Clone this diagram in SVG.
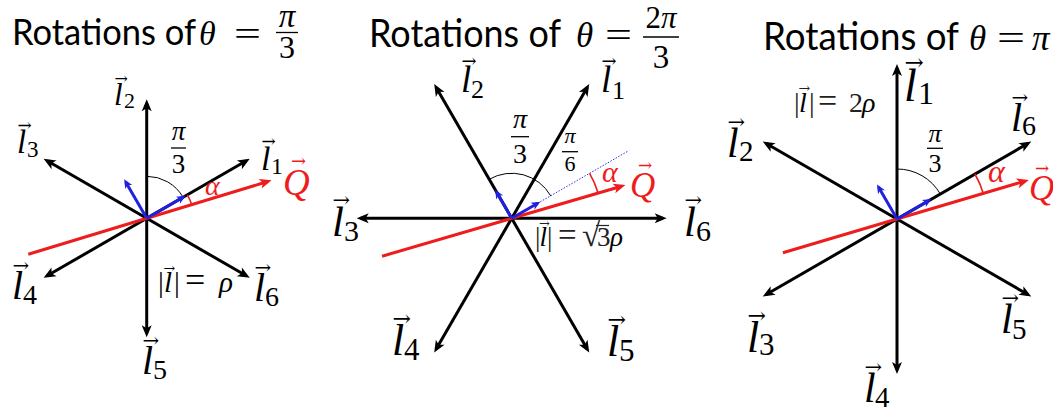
<svg xmlns="http://www.w3.org/2000/svg" width="1053" height="414" viewBox="0 0 1053 414">
<style>
.t{font-family:Lato,"Open Sans",sans-serif;fill:#000}
.mi{font-family:"Liberation Serif",serif;font-style:italic;fill:#000}
.mr{font-family:"Liberation Serif",serif;fill:#000}
.va{font-family:"DejaVu Serif",serif;fill:#000}
.red{fill:#ee1c1c}
.ln{stroke:#000;stroke-width:3;fill:none}
.rd{stroke:#ee1c1c;stroke-width:3;fill:none}
.bl{stroke:#2020e0;stroke-width:3;fill:none}
.dot{stroke:#3030e8;stroke-width:1;stroke-dasharray:1.5 1.5;fill:none}
.arc{stroke:#000;stroke-width:1;fill:none}
.rarc{stroke:#ee1c1c;stroke-width:1.6;fill:none}
.bar{stroke:#000;stroke-width:1.3}
.gr{fill:#222}
</style>
<defs>
<marker id="ak" markerUnits="userSpaceOnUse" markerWidth="14" markerHeight="12" refX="8" refY="5" orient="auto-start-reverse" overflow="visible"><path d="M0,0 L12,5 L0,10 L3,5 Z" fill="#000"/></marker>
<marker id="ar" markerUnits="userSpaceOnUse" markerWidth="14" markerHeight="12" refX="8" refY="5" orient="auto" overflow="visible"><path d="M0,0 L12,5 L0,10 L3,5 Z" fill="#ee1c1c"/></marker>
<marker id="ab" markerUnits="userSpaceOnUse" markerWidth="10" markerHeight="9" refX="6" refY="4" orient="auto" overflow="visible"><path d="M0,0 L9,4 L0,8 L2.5,4 Z" fill="#2020e0"/></marker>
</defs>
<rect width="1053" height="414" fill="#fff"/>

<!-- Titles -->
<g id="title1">
<text class="t" x="12" y="45" font-size="36" textLength="184" lengthAdjust="spacingAndGlyphs">Rotations of</text>
<text class="mi" x="199" y="45" font-size="34">θ</text>
<text class="mr" x="234" y="45" font-size="34" textLength="27" lengthAdjust="spacingAndGlyphs">=</text>
<text class="mi" x="287" y="27" font-size="33" text-anchor="middle">π</text>
<line class="bar" x1="276" y1="32.5" x2="298" y2="32.5"/>
<text class="mr" x="287" y="58" font-size="32" text-anchor="middle">3</text>
</g>
<g id="title2">
<text class="t" x="369" y="47" font-size="39" textLength="192" lengthAdjust="spacingAndGlyphs">Rotations of</text>
<text class="mi" x="576" y="47" font-size="35">θ</text>
<text class="mr" x="605" y="47" font-size="35" textLength="27" lengthAdjust="spacingAndGlyphs">=</text>
<text class="mr" x="661" y="28" font-size="31" text-anchor="middle">2<tspan class="mi">π</tspan></text>
<line class="bar" x1="643" y1="37" x2="679" y2="37"/>
<text class="mr" x="661" y="68" font-size="33" text-anchor="middle">3</text>
</g>
<g id="title3">
<text class="t" x="763" y="50" font-size="39" textLength="196" lengthAdjust="spacingAndGlyphs">Rotations of</text>
<text class="mi" x="969" y="50" font-size="35">θ</text>
<text class="mr" x="997" y="50" font-size="35" textLength="28" lengthAdjust="spacingAndGlyphs">=</text>
<text class="mi" x="1032" y="50" font-size="35">π</text>
</g>

<!-- Panel 1 -->
<g id="panel1">
<g id="p1-connectors">
<line class="ln" x1="146.7" y1="103.3" x2="146.7" y2="333.3" marker-start="url(#ak)" marker-end="url(#ak)"/>
<line class="ln" x1="47.1" y1="275.8" x2="246.3" y2="160.8" marker-start="url(#ak)" marker-end="url(#ak)"/>
<line class="ln" x1="47.1" y1="160.8" x2="246.3" y2="275.8" marker-start="url(#ak)" marker-end="url(#ak)"/>
<path class="arc" d="M146.7,176.3 A42,42 0 0,1 183.1,197.3"/>
<path class="rarc" d="M187.4,194.8 A47,47 0 0,1 191.7,204.6"/>
<line class="rd" x1="28.3" y1="254.3" x2="267.8" y2="181.5" marker-end="url(#ar)"/>
<line class="bl" x1="146.7" y1="218.3" x2="125.7" y2="181.9" marker-end="url(#ab)"/>
<line class="bl" x1="146.7" y1="218.3" x2="183.1" y2="197.3" marker-end="url(#ab)"/>
</g>
<g id="p1-l2"><text class="mi" x="114" y="105" font-size="31">l</text><text class="mr" x="124" y="108" font-size="22">2</text><text class="va" x="114.5" y="84.4" font-size="16">→</text></g>
<g id="p1-l3"><text class="mi" x="17" y="153" font-size="33">l</text><text class="mr" x="27" y="157" font-size="23">3</text><text class="va" x="17.5" y="131" font-size="17">→</text></g>
<g id="p1-l1"><text class="mi" x="261" y="170" font-size="34">l</text><text class="mr" x="271" y="174" font-size="24">1</text><text class="va" x="261.5" y="147.4" font-size="17">→</text></g>
<g id="p1-l4"><text class="mi" x="12" y="299" font-size="40">l</text><text class="mr" x="23" y="304" font-size="28">4</text><text class="va" x="12.5" y="272.4" font-size="20">→</text></g>
<g id="p1-l6"><text class="mi" x="254" y="301" font-size="40">l</text><text class="mr" x="265" y="306" font-size="28">6</text><text class="va" x="254.5" y="274.4" font-size="20">→</text></g>
<g id="p1-l5"><text class="mi" x="142" y="374" font-size="40">l</text><text class="mr" x="153" y="379" font-size="28">5</text><text class="va" x="142.5" y="347.4" font-size="20">→</text></g>
<g id="p1-Q"><text class="mi red" x="283" y="195" font-size="37">Q</text><text class="va red" x="291" y="167" font-size="18">→</text></g>
<g id="p1-alpha"><text class="mi red" x="205" y="195" font-size="28">α</text></g>
<g id="p1-angle"><text class="mi" x="178.5" y="140" font-size="27" text-anchor="middle">π</text><line class="bar" x1="171" y1="148" x2="186" y2="148"/><text class="mr" x="178.5" y="173" font-size="27" text-anchor="middle">3</text></g>
<g id="p1-norm"><text class="mr" y="292" font-size="29"><tspan x="158">|</tspan><tspan x="164" class="mi">l</tspan><tspan x="174">|</tspan><tspan x="185" font-size="36">=</tspan><tspan x="219" class="mi">ρ</tspan></text><text class="va" x="163.5" y="272.7" font-size="14">→</text></g>
</g>

<!-- Panel 2 -->
<g id="panel2">
<g id="p2-connectors">
<line class="ln" x1="360.7" y1="218.3" x2="662.7" y2="218.3" marker-start="url(#ak)" marker-end="url(#ak)"/>
<line class="ln" x1="436.2" y1="349.1" x2="587.2" y2="87.5" marker-start="url(#ak)" marker-end="url(#ak)"/>
<line class="ln" x1="587.2" y1="349.1" x2="436.2" y2="87.5" marker-start="url(#ak)" marker-end="url(#ak)"/>
<line class="dot" x1="511.7" y1="218.3" x2="627.7" y2="151.3"/>
<path class="arc" d="M489.2,179.3 A45,45 0 0,1 550.7,195.8"/>
<path class="rarc" d="M589.6,173.3 A90,90 0 0,1 598.1,193"/>
<line class="rd" x1="382.1" y1="256.2" x2="621.6" y2="186.2" marker-end="url(#ar)"/>
<line class="bl" x1="511.7" y1="218.3" x2="496.7" y2="192.3" marker-end="url(#ab)"/>
<line class="bl" x1="511.7" y1="218.3" x2="537.7" y2="203.3" marker-end="url(#ab)"/>
</g>
<g id="p2-l2"><text class="mi" x="461" y="92" font-size="37">l</text><text class="mr" x="471" y="98" font-size="26">2</text><text class="va" x="461.5" y="67.4" font-size="18">→</text></g>
<g id="p2-l1"><text class="mi" x="601" y="92" font-size="37">l</text><text class="mr" x="612" y="99" font-size="26">1</text><text class="va" x="601.5" y="67.4" font-size="18">→</text></g>
<g id="p2-l3"><text class="mi" x="332" y="236" font-size="43">l</text><text class="mr" x="344" y="241" font-size="30">3</text><text class="va" x="332.5" y="207.4" font-size="21">→</text></g>
<g id="p2-l6"><text class="mi" x="684" y="236" font-size="43">l</text><text class="mr" x="696" y="241" font-size="30">6</text><text class="va" x="684.5" y="207.4" font-size="21">→</text></g>
<g id="p2-l4"><text class="mi" x="392" y="355" font-size="44">l</text><text class="mr" x="404" y="360" font-size="31">4</text><text class="va" x="392.5" y="325.7" font-size="22">→</text></g>
<g id="p2-l5"><text class="mi" x="607" y="356" font-size="44">l</text><text class="mr" x="619" y="361" font-size="31">5</text><text class="va" x="607.5" y="326.7" font-size="22">→</text></g>
<g id="p2-Q"><text class="mi red" x="630" y="197" font-size="35">Q</text><text class="va red" x="638" y="170.7" font-size="17">→</text></g>
<g id="p2-alpha"><text class="mi red" x="602" y="182" font-size="30">α</text></g>
<g id="p2-angle1"><text class="mi" x="520" y="128" font-size="28" text-anchor="middle">π</text><line class="bar" x1="511" y1="136.7" x2="529" y2="136.7"/><text class="mr" x="520" y="163" font-size="28" text-anchor="middle">3</text></g>
<g id="p2-angle2"><text class="mi" x="570" y="143" font-size="22" text-anchor="middle">π</text><line class="bar" x1="562" y1="151.7" x2="578" y2="151.7"/><text class="mr" x="570" y="171" font-size="22" text-anchor="middle">6</text></g>
<g id="p2-norm"><text class="mr gr" y="246" font-size="27"><tspan x="535">|</tspan><tspan x="539.5" class="mi">l</tspan><tspan x="547">|</tspan><tspan x="558" font-size="33">=</tspan><tspan x="582" font-size="33">√</tspan><tspan x="597">3</tspan><tspan x="610" class="mi">ρ</tspan></text><line x1="596" y1="225.5" x2="609" y2="225.5" stroke="#222" stroke-width="1.2"/><text class="va gr" x="539" y="228" font-size="13">→</text></g>
</g>

<!-- Panel 3 -->
<g id="panel3">
<g id="p3-connectors">
<line class="ln" x1="897" y1="68" x2="897" y2="370" marker-start="url(#ak)" marker-end="url(#ak)"/>
<line class="ln" x1="766.2" y1="294.5" x2="1027.8" y2="143.5" marker-start="url(#ak)" marker-end="url(#ak)"/>
<line class="ln" x1="766.2" y1="143.5" x2="1027.8" y2="294.5" marker-start="url(#ak)" marker-end="url(#ak)"/>
<path class="arc" d="M897,169 A50,50 0 0,1 940.3,194"/>
<path class="rarc" d="M974.9,174 A90,90 0 0,1 983.3,193.4"/>
<line class="rd" x1="782.9" y1="252.8" x2="1025" y2="181.1" marker-end="url(#ar)"/>
<line class="bl" x1="897" y1="219" x2="878.5" y2="187" marker-end="url(#ab)"/>
<line class="bl" x1="897" y1="219" x2="929" y2="200.5" marker-end="url(#ab)"/>
</g>
<g id="p3-l1"><text class="mi" x="904" y="101" font-size="46">l</text><text class="mr" x="918" y="104" font-size="32">1</text><text class="va" x="904.5" y="70.4" font-size="23">→</text></g>
<g id="p3-l6"><text class="mi" x="1011" y="131" font-size="40">l</text><text class="mr" x="1022" y="135" font-size="28">6</text><text class="va" x="1011.5" y="104.4" font-size="20">→</text></g>
<g id="p3-l2"><text class="mi" x="727" y="157" font-size="42">l</text><text class="mr" x="739" y="161" font-size="29">2</text><text class="va" x="727.5" y="129" font-size="21">→</text></g>
<g id="p3-l3"><text class="mi" x="747" y="352" font-size="44">l</text><text class="mr" x="759" y="355" font-size="31">3</text><text class="va" x="747.5" y="322.7" font-size="22">→</text></g>
<g id="p3-l5"><text class="mi" x="1001" y="333" font-size="42">l</text><text class="mr" x="1012" y="339" font-size="29">5</text><text class="va" x="1001.5" y="305" font-size="21">→</text></g>
<g id="p3-l4"><text class="mi" x="864" y="402" font-size="42">l</text><text class="mr" x="875" y="407" font-size="29">4</text><text class="va" x="864.5" y="374" font-size="21">→</text></g>
<g id="p3-Q"><text class="mi red" x="1029" y="200" font-size="35">Q</text><text class="va red" x="1035" y="173.7" font-size="17">→</text></g>
<g id="p3-alpha"><text class="mi red" x="988" y="182" font-size="32">α</text></g>
<g id="p3-angle"><text class="mi" x="935" y="142" font-size="26" text-anchor="middle">π</text><line class="bar" x1="927" y1="148.3" x2="943" y2="148.3"/><text class="mr" x="935" y="172" font-size="26" text-anchor="middle">3</text></g>
<g id="p3-norm"><text class="mr gr" y="112" font-size="28"><tspan x="794">|</tspan><tspan x="799" class="mi">l</tspan><tspan x="809">|</tspan><tspan x="818" font-size="34">=</tspan><tspan x="849">2</tspan><tspan x="862" class="mi">ρ</tspan></text><text class="va gr" x="798.5" y="93.4" font-size="14">→</text></g>
</g>
</svg>
